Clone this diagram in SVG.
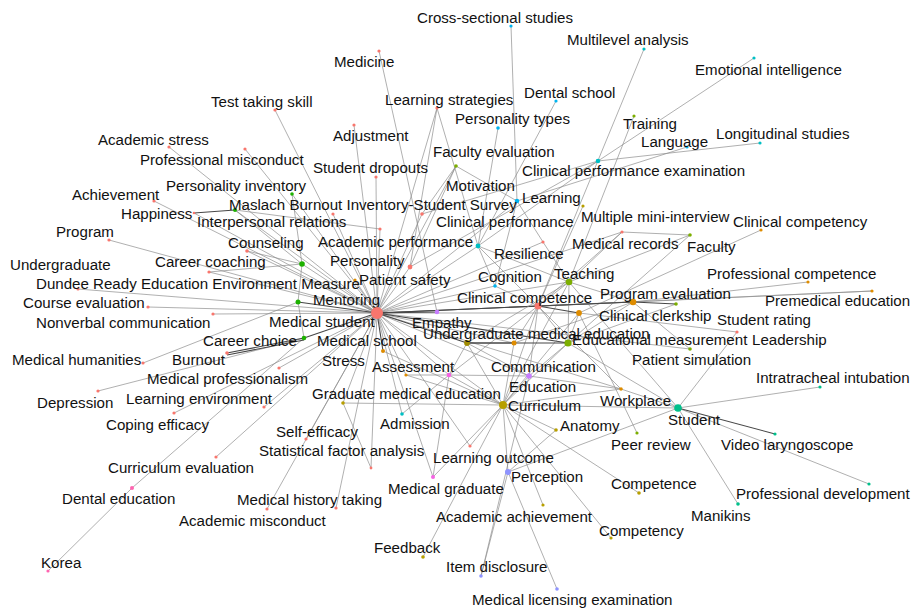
<svg xmlns="http://www.w3.org/2000/svg" width="912" height="609" viewBox="0 0 912 609">
<style>
  text { font-family: "Liberation Sans", Arial, sans-serif; font-size: 15.1px; fill: #111; }
  .e line { stroke: #8e8e8e; stroke-width: 0.7; }
  .e line.d { stroke: #474747; stroke-width: 1.1; }
  .r { fill: #F8766D; } .o { fill: #DE8C00; } .ol { fill: #B79F00; } .yg { fill: #7CAE00; }
  .g { fill: #1DB100; } .tg { fill: #00C08B; } .cy { fill: #00BFC4; } .lb { fill: #00B4F0; }
  .vi { fill: #8F94FF; } .pu { fill: #C77CFF; } .mg { fill: #F564E3; } .pk { fill: #FF64B0; }
</style>
<rect width="912" height="609" fill="#ffffff"/>

<!-- keyword co-occurrence links -->
<g id="connectors" class="e">
  <!-- links from the central keyword -->
  <line x1="377" y1="313" x2="275" y2="110"/><line x1="377" y1="313" x2="169" y2="147"/>
  <line x1="377" y1="313" x2="245" y2="149"/><line x1="377" y1="313" x2="354" y2="125"/>
  <line x1="377" y1="313" x2="376" y2="177"/><line x1="377" y1="313" x2="292" y2="194"/>
  <line x1="377" y1="313" x2="235" y2="210"/><line x1="377" y1="313" x2="333" y2="214"/>
  <line x1="377" y1="313" x2="422" y2="214"/><line x1="377" y1="313" x2="380" y2="229"/>
  <line x1="377" y1="313" x2="154" y2="201"/><line x1="377" y1="313" x2="109" y2="240"/>
  <line x1="377" y1="313" x2="247" y2="251"/><line x1="377" y1="313" x2="209" y2="272"/>
  <line x1="377" y1="313" x2="78" y2="289"/><line x1="377" y1="313" x2="148" y2="307"/>
  <line x1="377" y1="313" x2="213" y2="314"/><line x1="377" y1="313" x2="302" y2="264"/>
  <line x1="377" y1="313" x2="279" y2="368"/><line x1="377" y1="313" x2="264" y2="407"/>
  <line x1="377" y1="313" x2="174" y2="413"/><line x1="377" y1="313" x2="216" y2="457"/>
  <line x1="377" y1="313" x2="267" y2="509"/><line x1="377" y1="313" x2="306" y2="439"/>
  <line x1="377" y1="313" x2="336" y2="508"/><line x1="377" y1="313" x2="371" y2="468"/>
  <line x1="377" y1="313" x2="343" y2="403"/><line x1="377" y1="313" x2="402" y2="414"/>
  <line x1="377" y1="313" x2="406" y2="375"/><line x1="377" y1="313" x2="449" y2="375"/>
  <line x1="377" y1="313" x2="503" y2="405"/><line x1="377" y1="313" x2="529" y2="376"/>
  <line x1="377" y1="313" x2="514" y2="343"/><line x1="377" y1="313" x2="579" y2="313"/>
  <line x1="377" y1="313" x2="569" y2="282"/><line x1="377" y1="313" x2="495" y2="286"/>
  <line x1="377" y1="313" x2="543" y2="242"/><line x1="377" y1="313" x2="478" y2="246"/>
  <line x1="377" y1="313" x2="410" y2="267"/><line x1="377" y1="313" x2="355" y2="280"/>
  <line x1="377" y1="313" x2="517" y2="201"/><line x1="377" y1="313" x2="456" y2="166"/>
  <line x1="377" y1="313" x2="437" y2="108"/><line x1="377" y1="313" x2="622" y2="232"/>
  <line x1="377" y1="313" x2="433" y2="477"/><line x1="377" y1="313" x2="621" y2="389"/>
  <line x1="377" y1="313" x2="470" y2="446"/><line x1="377" y1="313" x2="690" y2="349"/>
  <line x1="377" y1="313" x2="194" y2="213"/>
  <line class="d" x1="377" y1="313" x2="298" y2="302"/><line class="d" x1="377" y1="313" x2="304" y2="338"/>
  <line class="d" x1="377" y1="313" x2="538" y2="306"/><line class="d" x1="377" y1="313" x2="467" y2="343"/>
  <line class="d" x1="377" y1="313" x2="568" y2="343"/><line class="d" x1="377" y1="313" x2="633" y2="302"/>
  <line class="d" x1="377" y1="313" x2="383" y2="351"/><line class="d" x1="377" y1="313" x2="437" y2="312"/>

  <!-- upper and left links -->
  <line x1="511" y1="26" x2="517" y2="201"/><line x1="644" y1="49" x2="538" y2="306"/>
  <line x1="754" y1="58" x2="598" y2="161"/><line x1="634" y1="116" x2="569" y2="282"/>
  <line x1="760" y1="143" x2="598" y2="161"/><line x1="687" y1="147" x2="517" y2="201"/>
  <line x1="598" y1="161" x2="422" y2="214"/><line x1="598" y1="161" x2="410" y2="267"/>
  <line x1="598" y1="161" x2="478" y2="246"/><line x1="379" y1="51" x2="437" y2="312"/>
  <line x1="437" y1="108" x2="410" y2="267"/><line x1="437" y1="108" x2="478" y2="246"/>
  <line x1="498" y1="128" x2="478" y2="246"/><line x1="556" y1="101" x2="478" y2="246"/>
  <line x1="456" y1="166" x2="517" y2="201"/><line x1="456" y1="166" x2="422" y2="214"/>
  <line x1="456" y1="166" x2="410" y2="267"/>
  <line class="d" x1="194" y1="213" x2="235" y2="210"/>
  <line x1="235" y1="210" x2="302" y2="264"/><line x1="235" y1="210" x2="380" y2="229"/>
  <line x1="292" y1="194" x2="302" y2="264"/><line x1="247" y1="251" x2="302" y2="264"/>
  <line x1="209" y1="272" x2="302" y2="264"/><line x1="302" y1="264" x2="298" y2="302"/>
  <line x1="298" y1="302" x2="304" y2="338"/><line x1="143" y1="363" x2="298" y2="302"/>
  <line x1="98" y1="391" x2="304" y2="338"/><line x1="132" y1="488" x2="304" y2="338"/>
  <line x1="48" y1="571" x2="132" y2="488"/><line x1="371" y1="468" x2="343" y2="403"/>
  <line class="d" x1="227" y1="353" x2="304" y2="338"/><line class="d" x1="227" y1="355" x2="304" y2="340"/>

  <!-- central and right links -->
  <line x1="538" y1="306" x2="569" y2="282"/><line x1="538" y1="306" x2="568" y2="343"/>
  <line x1="538" y1="306" x2="503" y2="405"/><line x1="538" y1="306" x2="529" y2="376"/>
  <line x1="538" y1="306" x2="449" y2="375"/><line x1="538" y1="306" x2="495" y2="286"/>
  <line x1="538" y1="306" x2="622" y2="232"/><line x1="538" y1="306" x2="621" y2="389"/>
  <line x1="538" y1="306" x2="514" y2="343"/><line x1="538" y1="306" x2="872" y2="291"/>
  <line x1="538" y1="306" x2="478" y2="246"/><line x1="538" y1="306" x2="583" y2="206"/>
  <line x1="569" y1="282" x2="568" y2="343"/><line x1="569" y1="282" x2="633" y2="302"/>
  <line x1="569" y1="282" x2="690" y2="235"/><line x1="569" y1="282" x2="622" y2="232"/>
  <line x1="569" y1="282" x2="503" y2="405"/><line x1="569" y1="282" x2="678" y2="408"/>
  <line x1="569" y1="282" x2="467" y2="343"/><line x1="569" y1="282" x2="543" y2="242"/>
  <line x1="569" y1="282" x2="478" y2="246"/>
  <line x1="633" y1="302" x2="808" y2="282"/><line x1="633" y1="302" x2="690" y2="349"/>
  <line x1="633" y1="302" x2="568" y2="343"/><line x1="633" y1="302" x2="872" y2="291"/>
  <line x1="633" y1="302" x2="514" y2="343"/>
  <line x1="579" y1="313" x2="761" y2="230"/><line x1="579" y1="313" x2="737" y2="332"/>
  <line x1="579" y1="313" x2="568" y2="343"/><line x1="579" y1="313" x2="637" y2="433"/>
  <line x1="579" y1="313" x2="503" y2="405"/>
  <line x1="568" y1="343" x2="676" y2="304"/><line x1="568" y1="343" x2="678" y2="408"/>
  <line x1="568" y1="343" x2="503" y2="405"/><line x1="568" y1="343" x2="529" y2="376"/>
  <line x1="568" y1="343" x2="690" y2="235"/>
  <line x1="467" y1="343" x2="503" y2="405"/><line x1="467" y1="343" x2="449" y2="375"/>
  <line x1="467" y1="343" x2="529" y2="376"/>
  <line x1="503" y1="405" x2="529" y2="376"/><line x1="503" y1="405" x2="514" y2="343"/>
  <line x1="503" y1="405" x2="556" y2="430"/><line x1="503" y1="405" x2="621" y2="389"/>
  <line x1="503" y1="405" x2="449" y2="375"/><line x1="503" y1="405" x2="508" y2="472"/>
  <line x1="503" y1="405" x2="470" y2="446"/><line x1="503" y1="405" x2="639" y2="493"/>
  <line x1="503" y1="405" x2="611" y2="538"/><line x1="503" y1="405" x2="423" y2="557"/>
  <line x1="503" y1="405" x2="433" y2="477"/><line x1="503" y1="405" x2="543" y2="505"/>
  <line x1="503" y1="405" x2="406" y2="375"/><line x1="503" y1="405" x2="383" y2="351"/>
  <line x1="503" y1="405" x2="343" y2="403"/><line x1="503" y1="405" x2="678" y2="408"/>
  <line x1="406" y1="375" x2="449" y2="375"/><line x1="449" y1="375" x2="529" y2="376"/>
  <line x1="449" y1="375" x2="433" y2="477"/><line x1="529" y1="376" x2="481" y2="576"/>
  <line x1="508" y1="472" x2="557" y2="589"/><line x1="508" y1="472" x2="481" y2="576"/>
  <line x1="508" y1="472" x2="678" y2="408"/><line x1="508" y1="472" x2="556" y2="430"/>
  <line x1="678" y1="408" x2="737" y2="332"/><line x1="678" y1="408" x2="820" y2="387"/>
  <line x1="678" y1="408" x2="869" y2="484"/><line x1="678" y1="408" x2="738" y2="504"/>
  <line x1="678" y1="408" x2="621" y2="389"/><line x1="621" y1="389" x2="529" y2="376"/>
  <line x1="402" y1="414" x2="449" y2="375"/><line x1="517" y1="201" x2="495" y2="286"/>
  <line x1="517" y1="201" x2="543" y2="242"/><line x1="622" y1="232" x2="690" y2="235"/>
  <line x1="478" y1="246" x2="495" y2="286"/>
  <line class="d" x1="467" y1="343" x2="568" y2="343"/><line class="d" x1="467" y1="343" x2="514" y2="343"/>
  <line class="d" x1="538" y1="306" x2="633" y2="302"/><line class="d" x1="538" y1="306" x2="579" y2="313"/>
  <line class="d" x1="633" y1="302" x2="676" y2="304"/><line class="d" x1="678" y1="408" x2="775" y2="434"/>
</g>

<!-- keywords -->
<g id="n-cross-sectional-studies"><circle class="lb" cx="511" cy="26" r="1.6"/><text x="417" y="23">Cross-sectional studies</text></g>
<g id="n-multilevel-analysis"><circle class="cy" cx="644" cy="49" r="1.6"/><text x="567" y="45">Multilevel analysis</text></g>
<g id="n-medicine"><circle class="r" cx="379" cy="51" r="1.6"/><text x="334" y="67">Medicine</text></g>
<g id="n-emotional-intelligence"><circle class="cy" cx="754" cy="58" r="1.6"/><text x="695" y="75">Emotional intelligence</text></g>
<g id="n-dental-school"><circle class="lb" cx="556" cy="101" r="1.6"/><text x="524" y="98">Dental school</text></g>
<g id="n-test-taking-skill"><circle class="r" cx="275" cy="110" r="1.6"/><text x="211" y="107">Test taking skill</text></g>
<g id="n-learning-strategies"><circle class="r" cx="437" cy="108" r="1.6"/><text x="385" y="105">Learning strategies</text></g>
<g id="n-personality-types"><circle class="lb" cx="498" cy="128" r="1.8"/><text x="455" y="124">Personality types</text></g>
<g id="n-training"><circle class="yg" cx="634" cy="116" r="1.6"/><text x="623" y="129">Training</text></g>
<g id="n-longitudinal-studies"><circle class="cy" cx="760" cy="143" r="1.6"/><text x="716" y="139">Longitudinal studies</text></g>
<g id="n-adjustment"><circle class="r" cx="354" cy="125" r="1.6"/><text x="333" y="141">Adjustment</text></g>
<g id="n-academic-stress"><circle class="r" cx="169" cy="147" r="1.6"/><text x="98" y="145">Academic stress</text></g>
<g id="n-language"><circle class="lb" cx="687" cy="147" r="1.6"/><text x="641" y="147">Language</text></g>
<g id="n-faculty-evaluation"><circle class="yg" cx="456" cy="166" r="1.8"/><text x="433" y="157">Faculty evaluation</text></g>
<g id="n-professional-misconduct"><circle class="r" cx="245" cy="149" r="1.6"/><text x="140" y="165">Professional misconduct</text></g>
<g id="n-student-dropouts"><circle class="r" cx="376" cy="177" r="1.6"/><text x="313" y="173">Student dropouts</text></g>
<g id="n-clinical-performance-examination"><circle class="cy" cx="598" cy="161" r="2.3"/><text x="522" y="176">Clinical performance examination</text></g>
<g id="n-personality-inventory"><circle class="g" cx="292" cy="194" r="1.8"/><text x="166" y="191">Personality inventory</text></g>
<g id="n-motivation"><circle class="r" cx="422" cy="214" r="1.8"/><text x="446" y="191">Motivation</text></g>
<g id="n-achievement"><circle class="r" cx="154" cy="201" r="1.6"/><text x="72" y="200">Achievement</text></g>
<g id="n-learning"><circle class="lb" cx="517" cy="201" r="2.3"/><text x="522" y="203">Learning</text></g>
<g id="n-maslach-burnout-inventory"><circle class="g" cx="235" cy="210" r="2"/><text x="229" y="210">Maslach Burnout Inventory-Student Survey</text></g>
<g id="n-happiness"><circle class="r" cx="194" cy="213" r="1.3"/><text x="121" y="219">Happiness</text></g>
<g id="n-multiple-mini-interview"><circle class="ol" cx="583" cy="206" r="1.6"/><text x="581" y="222">Multiple mini-interview</text></g>
<g id="n-clinical-competency"><circle class="o" cx="761" cy="230" r="1.6"/><text x="733" y="227">Clinical competency</text></g>
<g id="n-interpersonal-relations"><circle class="r" cx="333" cy="214" r="1.6"/><text x="197" y="227">Interpersonal relations</text></g>
<g id="n-clinical-performance"><circle class="r" cx="380" cy="229" r="1.6"/><text x="436" y="227">Clinical performance</text></g>
<g id="n-program"><circle class="r" cx="109" cy="240" r="1.6"/><text x="56" y="237">Program</text></g>
<g id="n-academic-performance"><circle class="cy" cx="478" cy="246" r="2.4"/><text x="318" y="247">Academic performance</text></g>
<g id="n-counseling"><circle class="r" cx="247" cy="251" r="1.8"/><text x="228" y="248">Counseling</text></g>
<g id="n-medical-records"><circle class="r" cx="622" cy="232" r="1.6"/><text x="572" y="249">Medical records</text></g>
<g id="n-faculty"><circle class="yg" cx="690" cy="235" r="1.8"/><text x="687" y="252">Faculty</text></g>
<g id="n-resilience"><circle class="r" cx="543" cy="242" r="1.6"/><text x="494" y="259">Resilience</text></g>
<g id="n-career-coaching"><circle class="r" cx="209" cy="272" r="1.6"/><text x="155" y="267">Career coaching</text></g>
<g id="n-personality"><circle class="r" cx="410" cy="267" r="2.4"/><text x="330" y="266">Personality</text></g>
<g id="n-undergraduate"><circle class="r" cx="78" cy="289" r="1.6"/><text x="10" y="270">Undergraduate</text></g>
<g id="n-teaching"><circle class="yg" cx="569" cy="282" r="3.3"/><text x="554" y="279">Teaching</text></g>
<g id="n-professional-competence"><circle class="o" cx="808" cy="282" r="1.6"/><text x="707" y="279">Professional competence</text></g>
<g id="n-cognition"><circle class="lb" cx="495" cy="286" r="1.8"/><text x="478" y="282">Cognition</text></g>
<g id="n-patient-safety"><circle class="o" cx="355" cy="280" r="1.6"/><text x="359" y="285">Patient safety</text></g>
<g id="n-dundee-ready-education-environment-measure"><circle class="g" cx="302" cy="264" r="2.8"/><text x="36" y="289">Dundee Ready Education Environment Measure</text></g>
<g id="n-program-evaluation"><circle class="o" cx="633" cy="302" r="3.3"/><text x="600" y="299">Program evaluation</text></g>
<g id="n-clinical-competence"><circle class="r" cx="538" cy="306" r="3.5"/><text x="457" y="303">Clinical competence</text></g>
<g id="n-mentoring"><circle class="g" cx="298" cy="302" r="2.5"/><text x="313" y="305">Mentoring</text></g>
<g id="n-premedical-education"><circle class="o" cx="872" cy="291" r="1.6"/><text x="765" y="306">Premedical education</text></g>
<g id="n-course-evaluation"><circle class="r" cx="148" cy="307" r="1.6"/><text x="23" y="308">Course evaluation</text></g>
<g id="n-clinical-clerkship"><circle class="o" cx="579" cy="313" r="2.9"/><text x="599" y="321">Clinical clerkship</text></g>
<g id="n-student-rating"><circle class="yg" cx="676" cy="304" r="1.8"/><text x="717" y="325">Student rating</text></g>
<g id="n-medical-student"><circle class="r" cx="377" cy="313" r="6"/><text x="269" y="327">Medical student</text></g>
<g id="n-empathy"><circle class="pu" cx="437" cy="312" r="2.3"/><text x="412" y="328">Empathy</text></g>
<g id="n-nonverbal-communication"><circle class="r" cx="213" cy="314" r="1.6"/><text x="36" y="328">Nonverbal communication</text></g>
<g id="n-undergraduate-medical-education"><circle fill="#A08C00" cx="467" cy="343" r="2.9"/><text x="423" y="339">Undergraduate medical education</text></g>
<g id="n-leadership"><circle class="r" cx="737" cy="332" r="1.6"/><text x="752" y="345">Leadership</text></g>
<g id="n-educational-measurement"><circle class="yg" cx="568" cy="343" r="3.6"/><text x="572" y="345">Educational measurement</text></g>
<g id="n-career-choice"><circle class="g" cx="304" cy="338" r="2.3"/><text x="203" y="346">Career choice</text></g>
<g id="n-medical-school"><circle class="o" cx="383" cy="351" r="2"/><text x="317" y="346">Medical school</text></g>
<g id="n-medical-humanities"><circle class="r" cx="143" cy="363" r="1.6"/><text x="12" y="365">Medical humanities</text></g>
<g id="n-burnout"><circle class="r" cx="227" cy="353" r="1.8"/><text x="172" y="365">Burnout</text></g>
<g id="n-patient-simulation"><circle class="yg" cx="690" cy="349" r="1.8"/><text x="632" y="365">Patient simulation</text></g>
<g id="n-stress"><circle class="o" cx="406" cy="375" r="1.6"/><text x="322" y="366">Stress</text></g>
<g id="n-assessment"><circle class="mg" cx="449" cy="375" r="2.3"/><text x="372" y="372">Assessment</text></g>
<g id="n-communication"><circle class="pu" cx="529" cy="376" r="2.8"/><text x="491" y="372">Communication</text></g>
<g id="n-medical-professionalism"><circle class="r" cx="279" cy="368" r="1.6"/><text x="147" y="384">Medical professionalism</text></g>
<g id="n-intratracheal-intubation"><circle class="tg" cx="820" cy="387" r="1.6"/><text x="756" y="383">Intratracheal intubation</text></g>
<g id="n-education"><circle class="o" cx="514" cy="343" r="2.5"/><text x="509" y="392">Education</text></g>
<g id="n-graduate-medical-education"><circle class="ol" cx="343" cy="403" r="1.8"/><text x="312" y="399">Graduate medical education</text></g>
<g id="n-learning-environment"><circle class="r" cx="264" cy="407" r="1.6"/><text x="126" y="404">Learning environment</text></g>
<g id="n-workplace"><circle class="o" cx="621" cy="389" r="1.8"/><text x="600" y="406">Workplace</text></g>
<g id="n-depression"><circle class="r" cx="98" cy="391" r="1.6"/><text x="37" y="408">Depression</text></g>
<g id="n-curriculum"><circle class="ol" cx="503" cy="405" r="4"/><text x="508" y="411">Curriculum</text></g>
<g id="n-student"><circle class="tg" cx="678" cy="408" r="3.8"/><text x="668" y="425">Student</text></g>
<g id="n-coping-efficacy"><circle class="r" cx="174" cy="413" r="1.6"/><text x="106" y="430">Coping efficacy</text></g>
<g id="n-admission"><circle class="cy" cx="402" cy="414" r="1.8"/><text x="380" y="429">Admission</text></g>
<g id="n-anatomy"><circle class="ol" cx="556" cy="430" r="1.8"/><text x="560" y="431">Anatomy</text></g>
<g id="n-self-efficacy"><circle class="r" cx="306" cy="439" r="1.6"/><text x="276" y="437">Self-efficacy</text></g>
<g id="n-peer-review"><circle class="yg" cx="637" cy="433" r="1.6"/><text x="611" y="450">Peer review</text></g>
<g id="n-video-laryngoscope"><circle class="tg" cx="775" cy="434" r="1.6"/><text x="721" y="450">Video laryngoscope</text></g>
<g id="n-statistical-factor-analysis"><circle class="r" cx="371" cy="468" r="1.4"/><text x="259" y="456">Statistical factor analysis</text></g>
<g id="n-learning-outcome"><circle class="r" cx="470" cy="446" r="1.6"/><text x="433" y="463">Learning outcome</text></g>
<g id="n-curriculum-evaluation"><circle class="r" cx="216" cy="457" r="1.6"/><text x="108" y="473">Curriculum evaluation</text></g>
<g id="n-perception"><circle class="vi" cx="508" cy="472" r="3"/><text x="511" y="482">Perception</text></g>
<g id="n-competence"><circle class="ol" cx="639" cy="493" r="1.8"/><text x="611" y="489">Competence</text></g>
<g id="n-medical-graduate"><circle class="mg" cx="433" cy="477" r="2"/><text x="388" y="494">Medical graduate</text></g>
<g id="n-professional-development"><circle class="tg" cx="869" cy="484" r="1.6"/><text x="736" y="499">Professional development</text></g>
<g id="n-dental-education"><circle class="pk" cx="132" cy="488" r="2"/><text x="62" y="504">Dental education</text></g>
<g id="n-medical-history-taking"><circle class="r" cx="336" cy="508" r="1.6"/><text x="237" y="505">Medical history taking</text></g>
<g id="n-manikins"><circle class="tg" cx="738" cy="504" r="1.8"/><text x="691" y="521">Manikins</text></g>
<g id="n-academic-achievement"><circle class="ol" cx="543" cy="505" r="1.6"/><text x="436" y="522">Academic achievement</text></g>
<g id="n-academic-misconduct"><circle class="r" cx="267" cy="509" r="1.6"/><text x="179" y="526">Academic misconduct</text></g>
<g id="n-competency"><circle class="ol" cx="611" cy="538" r="1.6"/><text x="599" y="536">Competency</text></g>
<g id="n-feedback"><circle class="ol" cx="423" cy="557" r="1.8"/><text x="374" y="553">Feedback</text></g>
<g id="n-korea"><circle class="pk" cx="48" cy="571" r="1.6"/><text x="41" y="568">Korea</text></g>
<g id="n-item-disclosure"><circle class="vi" cx="481" cy="576" r="1.8"/><text x="446" y="572">Item disclosure</text></g>
<g id="n-medical-licensing-examination"><circle class="vi" cx="557" cy="589" r="1.8"/><text x="472" y="605">Medical licensing examination</text></g>
</svg>
